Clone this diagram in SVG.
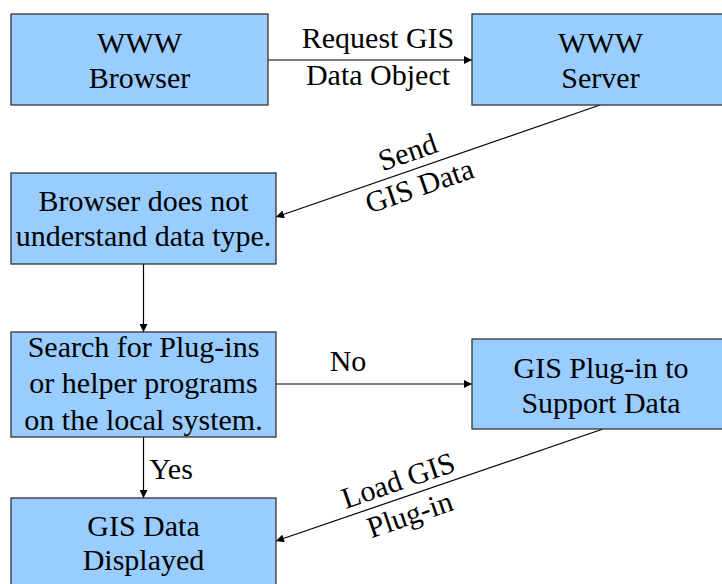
<svg xmlns="http://www.w3.org/2000/svg" width="722" height="584" viewBox="0 0 722 584">
<style>
.box{fill:#99CCFF;stroke:#333333;stroke-width:1.3}
.c{stroke:#000;stroke-width:1.2;fill:none;marker-end:url(#ah)}
</style>
<defs>
<marker id="ah" viewBox="0 0 10 10" refX="10" refY="5" markerWidth="10" markerHeight="8" markerUnits="userSpaceOnUse" orient="auto">
<path d="M0,0 L10,5 L0,10 z" fill="#000"/>
</marker>
</defs>
<rect width="722" height="584" fill="#fff"/>
<g font-family="Liberation Serif, serif" font-size="30" text-anchor="middle" fill="#000">
<g id="connectors">
<line class="c" x1="268" y1="60" x2="472" y2="60"/>
<line class="c" x1="600" y1="105" x2="276" y2="217"/>
<line class="c" x1="143.5" y1="264" x2="143.5" y2="332"/>
<line class="c" x1="276" y1="384" x2="472" y2="384"/>
<line class="c" x1="143.5" y1="437" x2="143.5" y2="498"/>
<line class="c" x1="603" y1="429" x2="276" y2="541"/>
<text x="378" y="48">Request GIS</text>
<text x="378" y="85">Data Object</text>
<g transform="translate(413.5,169) rotate(-19)">
<text x="0" y="-8">Send</text>
<text x="0" y="28">GIS Data</text>
</g>
<text x="348" y="371">No</text>
<text x="171" y="479">Yes</text>
<g transform="translate(404,497.5) rotate(-19)">
<text x="0" y="-8">Load GIS</text>
<text x="0" y="28">Plug-in</text>
</g>
</g>
<g id="www-browser">
<rect class="box" x="11" y="14" width="257" height="91"/>
<text x="139.5" y="53">WWW</text>
<text x="139.5" y="88">Browser</text>
</g>
<g id="www-server">
<rect class="box" x="472" y="14" width="257" height="91"/>
<text x="600.5" y="53">WWW</text>
<text x="600.5" y="88">Server</text>
</g>
<g id="not-understand">
<rect class="box" x="11" y="173" width="265" height="91"/>
<text x="143.5" y="211">Browser does not</text>
<text x="143.5" y="246">understand data type.</text>
</g>
<g id="search">
<rect class="box" x="11" y="332" width="265" height="105"/>
<text x="143.5" y="357">Search for Plug-ins</text>
<text x="143.5" y="393">or helper programs</text>
<text x="143.5" y="430">on the local system.</text>
</g>
<g id="plugin">
<rect class="box" x="472" y="339" width="257" height="90"/>
<text x="601" y="378">GIS Plug-in to</text>
<text x="601" y="413">Support Data</text>
</g>
<g id="displayed">
<rect class="box" x="11" y="498" width="265" height="100"/>
<text x="143.5" y="536">GIS Data</text>
<text x="143.5" y="570">Displayed</text>
</g>
</g>
</svg>
